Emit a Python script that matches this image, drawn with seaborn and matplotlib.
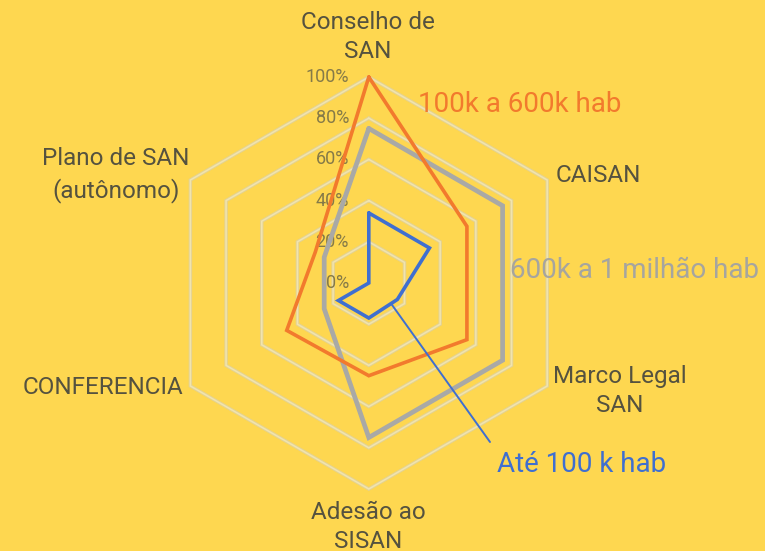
import matplotlib
matplotlib.use("Agg")
import matplotlib.pyplot as plt
import seaborn as sns
import pandas as pd
import numpy as np

sns.set_theme(style="white")
plt.rcParams['font.family'] = ['Roboto', 'DejaVu Sans']

# categories clockwise from the top
categories = ["Conselho de\nSAN", "CAISAN", "Marco Legal\nSAN",
              "Adesão ao\nSISAN", "CONFERENCIA", "Plano de SAN\n(autônomo)"]
series_names = ["600k a 1 milhão hab", "100k a 600k hab", "Até 100 k hab"]
vals_600k_1m = [75, 75, 75, 75, 25, 25]
vals_100k_600k = [100, 55, 55, 45, 46, 30]
vals_ate_100k = [34, 34, 16, 17, 17, 0]
ring_levels = [0, 20, 40, 60, 80, 100]
ring_labels = ["0%", "20%", "40%", "60%", "80%", "100%"]

bg = "#fed750"
colors = {"600k a 1 milhão hab": "#a9a9a6",
          "100k a 600k hab": "#f27a2d",
          "Até 100 k hab": "#3f6fd0"}
widths = {"600k a 1 milhão hab": 3.4,
          "100k a 600k hab": 2.6,
          "Até 100 k hab": 2.6}

# pixel geometry of the reference: centre and radius for 100 %
CX, CY, R = 368.8, 283.0, 206.0
W, H = 765, 551


def px(xp, yp):
    return (xp - CX) / R, (CY - yp) / R


n = len(categories)
angles = np.pi / 2 - np.arange(n) * 2 * np.pi / n


def to_xy(values):
    v = np.array(list(values) + [values[0]], dtype=float) / 100.0
    a = np.append(angles, angles[0])
    return v * np.cos(a), v * np.sin(a)


fig = plt.figure(figsize=(W / 100, H / 100), dpi=100, facecolor=bg)
ax = fig.add_axes([0, 0, 1, 1])
ax.set_facecolor(bg)
ax.set_xlim(-CX / R, (W - CX) / R)
ax.set_ylim((CY - H) / R, CY / R)
ax.axis("off")

# hexagonal grid rings (khaki edge, cream centre)
for lv in ring_levels[1:]:
    gx, gy = to_xy([lv] * n)
    ax.plot(gx, gy, color="#e3d293", lw=2.5, zorder=1, solid_joinstyle="miter")
    ax.plot(gx, gy, color="#f1e4ae", lw=1.1, zorder=1.1, solid_joinstyle="miter")

# ring labels along the top axis
for lv, lab in zip(ring_levels, ring_labels):
    x0, _ = px(349, 0)
    ax.text(x0, lv / 100.0, lab, ha="right", va="center", fontsize=13,
            color="#857a48")

frames = []
for name, vals in zip(series_names, [vals_600k_1m, vals_100k_600k, vals_ate_100k]):
    xs, ys = to_xy(vals)
    frames.append(pd.DataFrame({"x": xs, "y": ys, "serie": name,
                                "ordem": np.arange(len(xs))}))
df = pd.concat(frames, ignore_index=True)

for i, name in enumerate(series_names):
    sub = df[df["serie"] == name]
    sns.lineplot(data=sub, x="x", y="y", sort=False, estimator=None,
                 color=colors[name], lw=widths[name], ax=ax, zorder=3 + i,
                 legend=False)
    ax.lines[-1].set_solid_joinstyle("miter")

# category labels
cat_pos = [(368, 37, "center"), (556, 175, "left"), (620, 391, "center"),
           (368, 527, "center"), (183, 388, "right"), (116, 175, "center")]
for lab, (xp, yp, ha) in zip(categories, cat_pos):
    x, y = px(xp, yp)
    ax.text(x, y, lab, ha=ha, va="center", fontsize=17.5, color="#55523f",
            linespacing=1.38, multialignment="center")

# series labels
x, y = px(418, 105)
ax.text(x, y, series_names[1], ha="left", va="center", fontsize=20,
        color=colors[series_names[1]])
x, y = px(510, 270)
ax.text(x, y, series_names[0], ha="left", va="center", fontsize=20,
        color="#a6a59f")

# leader for the small-city series, anchored on its Marco Legal -> Adesão edge
bx, by = to_xy(vals_ate_100k)
t = 0.22
anchor = (bx[2] + t * (bx[3] - bx[2]), by[2] + t * (by[3] - by[2]))
end = px(490, 442)
ax.plot([anchor[0], end[0]], [anchor[1], end[1]], color=colors[series_names[2]],
        lw=1.4, zorder=6)
x, y = px(497, 464)
ax.text(x, y, series_names[2], ha="left", va="center", fontsize=20,
        color=colors[series_names[2]])

fig.savefig("out.png", dpi=100, facecolor=bg)
